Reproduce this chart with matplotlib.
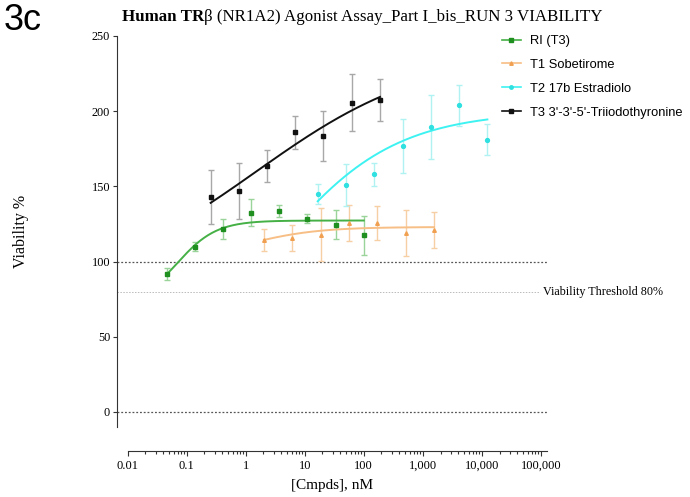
import numpy as np
import matplotlib.pyplot as plt
from matplotlib.lines import Line2D
from matplotlib.ticker import FixedLocator, NullFormatter

# RI (T3)
ri_conc = [0.0457, 0.137, 0.41, 1.23, 3.7, 11.1, 33.3, 100]
ri_mean = [92, 110, 121.5, 132.5, 133.5, 128.5, 124.5, 117.5]
ri_sd = [4.0, 3.0, 6.5, 9.0, 3.8, 3.0, 9.7, 12.8]

# T1 Sobetirome
t1_conc = [2.04, 6.17, 18.6, 56.4, 170, 513, 1550]
t1_mean = [114.5, 115.5, 118, 125.5, 125.5, 119, 121]
t1_sd = [7.2, 8.6, 17.9, 12.1, 11.4, 15.6, 12.2]

# T2 17b Estradiolo
t2_conc = [16.6, 50.2, 151, 458, 1384, 4170, 12450]
t2_mean = [145, 151, 158, 177, 189.5, 204, 181]
t2_sd = [6.4, 14.1, 7.7, 18.0, 21.4, 13.6, 10.3]

# T3 3'-3'-5'-Triiodothyronine
t3_conc = [0.255, 0.76, 2.27, 6.9, 20.7, 62.6, 189]
t3_mean = [143, 147, 163.5, 186, 183.5, 205.5, 207.5]
t3_sd = [17.9, 18.5, 10.4, 10.9, 16.9, 18.9, 14.1]

# fit parameters: bottom, top, logEC50, hill slope
ri_fit = [70, 127.3, -1.167, 1.3]
t1_fit = [100, 123, 0.0, 0.72]
t2_fit = [0, 200, 0.32, 0.41]
t3_fit = [80, 240, 0.183, 0.30]

labels = ['RI (T3)', 'T1 Sobetirome', 'T2 17b Estradiolo',
          "T3 3'-3'-5'-Triiodothyronine"]

x_ticks = [0.01, 0.1, 1, 10, 100, 1000, 10000, 100000]
x_tick_labels = ['0.01', '0.1', '1', '10', '100', '1,000', '10,000', '100,000']
y_ticks = [0, 50, 100, 150, 200, 250]

serif = 'Liberation Serif'
sans = 'Liberation Sans'


def four_pl(x, p):
    bottom, top, log_ec50, hill = p
    return bottom + (top - bottom) / (1 + 10 ** ((log_ec50 - np.log10(x)) * hill))


fig = plt.figure(figsize=(6.9, 4.97), dpi=100)
ax = fig.add_axes([117 / 690, 1 - 427 / 497, 429.7 / 690, 391 / 497])

series = [
    (ri_conc, ri_mean, ri_sd, ri_fit, '#1f8f1f', '#45b045', '#9ad49a', 's', 3.0),
    (t1_conc, t1_mean, t1_sd, t1_fit, '#f0a050', '#f7be85', '#f7cfa5', '^', 2.6),
    (t2_conc, t2_mean, t2_sd, t2_fit, '#30e0e0', '#3ef2f2', '#b0f2f2', 'o', 2.8),
    (t3_conc, t3_mean, t3_sd, t3_fit, '#111111', '#111111', '#a8a8a8', 's', 3.0),
]

handles = []
for conc, mean, sd, fit, pc, lc, ec, mk, ms in series:
    ax.errorbar(conc, mean, yerr=sd, fmt='none', ecolor=ec,
                elinewidth=1.0, capsize=2, capthick=1.0, zorder=2)
    xs = np.logspace(np.log10(min(conc)), np.log10(max(conc)), 200)
    ax.plot(xs, four_pl(xs, fit), color=lc, lw=1.4, zorder=3)
    ax.plot(conc, mean, ls='none', marker=mk, color=pc, ms=ms, zorder=4)
    handles.append(Line2D([], [], color=lc, lw=1.2, marker=mk,
                          markerfacecolor=pc, markeredgecolor=pc, ms=2.5))

# reference lines
ax.axhline(100, color='#555555', ls=(0, (1.5, 1.5)), lw=0.9, zorder=1)
ax.axhline(0, color='#555555', ls=(0, (1.5, 1.5)), lw=0.9, zorder=1)
ax.axhline(80, xmax=0.985, color='#bbbbbb', ls=(0, (1.5, 1.5)), lw=0.7, zorder=1)
ax.text(0.991, 80, 'Viability Threshold 80%', transform=ax.get_yaxis_transform(),
        va='center', ha='left', fontsize=8.7, family=serif, clip_on=False)

ax.set_xscale('log')
ax.set_xlim(0.0066, 1.26e5)
ax.set_ylim(-10, 250)

ax.spines['top'].set_visible(False)
ax.spines['right'].set_visible(False)
ax.spines['bottom'].set_position(('outward', 17.3))
ax.spines['bottom'].set_bounds(0.01, 1.26e5)
ax.spines['left'].set_color('#333333')
ax.spines['bottom'].set_color('#333333')

ax.xaxis.set_major_locator(FixedLocator(x_ticks))
ax.set_xticklabels(x_tick_labels)
minor = [m * 10.0 ** e for e in range(-2, 5) for m in range(2, 10)]
ax.xaxis.set_minor_locator(FixedLocator(minor))
ax.xaxis.set_minor_formatter(NullFormatter())
ax.set_yticks(y_ticks)

ax.tick_params(axis='x', which='major', length=3.5, width=0.8, color='#333333', pad=3)
ax.tick_params(axis='x', which='minor', length=2, width=0.8, color='#333333')
ax.tick_params(axis='y', length=3, width=0.8, color='#333333', pad=2)
for lab in ax.get_xticklabels():
    lab.set_family(serif)
    lab.set_fontsize(9)
for lab in ax.get_yticklabels():
    lab.set_family(serif)
    lab.set_fontsize(8.8)

ax.set_xlabel('[Cmpds], nM', family=serif, fontsize=11, labelpad=5)
ax.set_ylabel('Viability %', family=serif, fontsize=11.5, labelpad=45)

# title: bold part + normal part
t1 = fig.text(122 / 690, 1 - 17 / 497, 'Human TR', family=serif,
              fontweight='bold', fontsize=12.2, va='center', ha='left')
ax.annotate('\u03b2 (NR1A2) Agonist Assay_Part I_bis_RUN 3 VIABILITY',
            xy=(1, 0), xycoords=t1, va='bottom', ha='left',
            family=serif, fontsize=12.2, annotation_clip=False)

fig.text(4 / 690, 1 - 21 / 497, '3c', family=sans, fontsize=26,
         va='center', ha='left')

fig.legend(handles, labels, loc='upper left',
           bbox_to_anchor=(502 / 690, 1 - 35 / 497),
           frameon=False, borderpad=0, borderaxespad=0,
           handlelength=1.45, handletextpad=0.75, labelspacing=0.92,
           prop={'family': sans, 'size': 9.3})

fig.savefig('out.png', dpi=100)
